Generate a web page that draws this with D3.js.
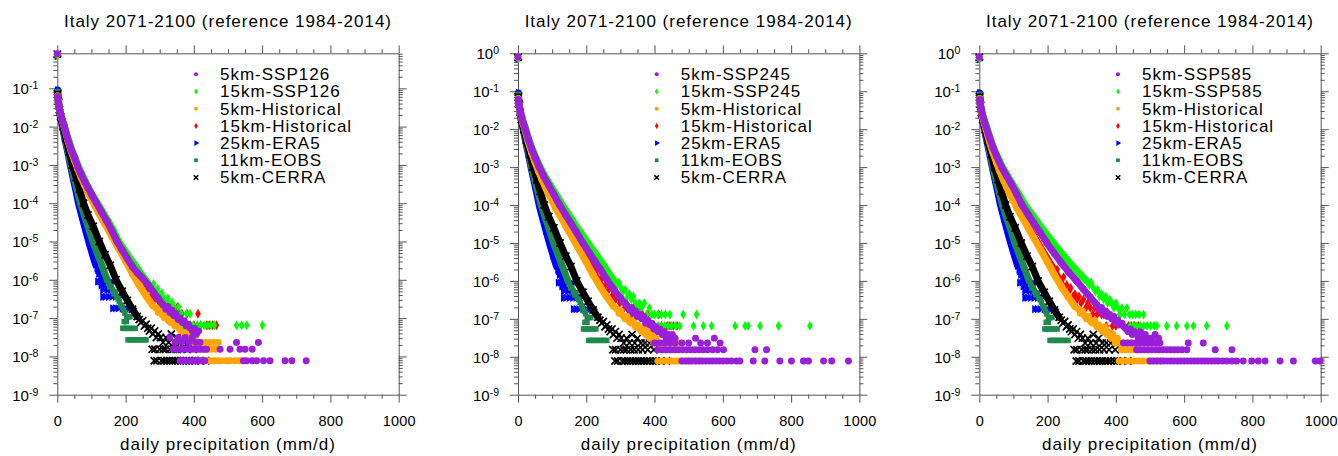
<!DOCTYPE html>
<html>
<head>
<meta charset="utf-8">
<script src="https://cdn.jsdelivr.net/npm/d3@7"></script>
<style>
    body { margin: 0; background: #fff; }
    svg { display: block; font-family: "Liberation Sans", Arial, Helvetica, sans-serif; }
    .domain, .tick line { stroke: #555; stroke-width: 1; }
    .tick text { fill: #000; }
</style>
</head>
<body>
<svg id="chart" width="1338" height="456"></svg>
<script>
// ---- axis / label data ----
const xTicks = [0, 200, 400, 600, 800, 1000];
const xMinorTicks = [50, 100, 150, 250, 300, 350, 450, 500, 550, 650, 700, 750, 850, 900, 950];
const yExponents = [0, -1, -2, -3, -4, -5, -6, -7, -8, -9];
const yMaxByPanel = [0.82, 1, 1];
const panelTitles = [
    'Italy 2071-2100 (reference 1984-2014)',
    'Italy 2071-2100 (reference 1984-2014)',
    'Italy 2071-2100 (reference 1984-2014)'
];
const scenarios = ['SSP126', 'SSP245', 'SSP585'];
const referenceLabels = ['5km-Historical', '15km-Historical', '25km-ERA5', '11km-EOBS', '5km-CERRA'];

// ---- reference series (same in every panel): [mm/d, frequency] ----
const era5Bulk = [[1,9.0e-2],[3,5.0e-2],[6,2.8e-2],[10,1.6e-2],[15,1.0e-2],[22,4.9e-3],[30,2.3e-3],[38,1.0e-3],[46,4.7e-4],[54,2.2e-4],[62,1.0e-4],[72,4.5e-5],[82,2.1e-5],[92,1.0e-5],[103,4.6e-6],[112,2.5e-6]];
const era5Tail = [[0,0.7],[116,1.98e-6],[118,1.8e-6],[121,1.44e-6],[124,1.62e-6],[127,1.08e-6],[130,1.26e-6],
    [118,9.0e-7],[125,9.0e-7],[132,9.0e-7],[140,9.0e-7],[150,9.0e-7],[157,9.0e-7],[128,7.2e-7],[140,7.2e-7],[148,7.2e-7],
    [133,5.4e-7],[145,5.4e-7],[155,5.4e-7],[133,3.6e-7],[140,3.6e-7],[150,3.6e-7],[160,3.6e-7],[170,3.6e-7],[182,3.6e-7],
    [162,1.8e-7],[170,1.8e-7],[178,1.8e-7],[190,1.8e-7],[200,1.8e-7],[210,1.8e-7],[221,1.8e-7]];

const eobsBulk = [[1,8.0e-2],[3,4.8e-2],[6,2.8e-2],[10,1.7e-2],[16,1.0e-2],[24,4.7e-3],[32,2.2e-3],[40,1.0e-3],[50,4.3e-4],[59,2.1e-4],[68,1.0e-4],[80,4.6e-5],[92,2.2e-5],[104,1.0e-5],[118,4.7e-6],[132,2.2e-6],[146,1.0e-6]];
const eobsTail = [[0,0.72],[150,8.1e-7],[154,6.5e-7],[158,7.0e-7],[162,5.4e-7],[166,4.3e-7],[170,4.9e-7],[174,3.5e-7],[178,3.2e-7],
    [182,2.7e-7],[186,2.2e-7],[190,1.9e-7],[194,1.6e-7],[198,1.35e-7],[203,1.08e-7],[208,1.08e-7],[213,1.08e-7],[196,8.1e-8],[202,8.1e-8],
    [192,5.4e-8],[198,5.4e-8],[204,5.4e-8],[212,5.4e-8],[220,5.4e-8],[228,5.4e-8],
    [207,2.7e-8],[214,2.7e-8],[221,2.7e-8],[228,2.7e-8],[236,2.7e-8],[244,2.7e-8],[252,2.7e-8],[260,2.7e-8]];

const cerraBulk = [[1,7.0e-2],[3,4.5e-2],[6,2.8e-2],[10,1.8e-2],[17,1.0e-2],[25,5.0e-3],[35,2.2e-3],[44,1.0e-3],[55,4.7e-4],[65,2.3e-4],[77,1.0e-4],[90,4.9e-5],[105,2.5e-5],[123,1.0e-5],[140,4.5e-6],[155,2.4e-6],[172,1.0e-6],[190,5.0e-7],[205,2.9e-7],[220,1.7e-7],[234,1.1e-7]];
const cerraTail = [[0,0.78],[240,9.2e-8],[245,7.7e-8],[250,8.5e-8],[255,6.2e-8],[260,6.9e-8],[265,5.4e-8],[270,4.6e-8],[275,5.4e-8],
    [280,3.85e-8],[285,4.6e-8],[290,3.1e-8],[296,3.85e-8],[302,3.1e-8],[310,2.3e-8],[318,3.1e-8],[326,2.3e-8],[334,3.85e-8],
    [342,2.3e-8],[350,3.1e-8],[360,2.3e-8],[372,2.3e-8],[385,2.3e-8],
    [278,1.54e-8],[286,1.54e-8],[300,1.54e-8],[310,1.54e-8],[318,1.54e-8],[330,1.54e-8],[340,1.54e-8],[352,1.54e-8],[365,1.54e-8],[380,1.54e-8],[398,1.54e-8],
    [284,7.7e-9],[292,7.7e-9],[305,7.7e-9],[313,7.7e-9],[321,7.7e-9],[329,7.7e-9],[337,7.7e-9],[345,7.7e-9],[353,7.7e-9],[361,7.7e-9],
    [369,7.7e-9],[377,7.7e-9],[385,7.7e-9],[395,7.7e-9],[405,7.7e-9],[420,7.7e-9],[435,7.7e-9]];

const hist5kmBulk = [[1,6.3e-2],[3,4.5e-2],[6,3.0e-2],[10,2.1e-2],[15,1.4e-2],[20,1.0e-2],[30,4.7e-3],[40,2.4e-3],[50,1.35e-3],[60,7.8e-4],[70,4.7e-4],[80,3.0e-4],[90,1.9e-4],[100,1.3e-4],[110,8.5e-5],[120,5.9e-5],[140,2.8e-5],[160,1.35e-5],[180,6.5e-6],[200,3.1e-6],[220,1.45e-6],[240,7.2e-7],[260,3.8e-7],[280,2.1e-7]];
const hist5kmTail = [[0,0.78],[290,1.8e-7],[296,1.4e-7],[302,1.6e-7],[308,1.2e-7],[314,1.0e-7],[320,1.15e-7],[326,8.5e-8],[332,7.7e-8],
    [338,9.2e-8],[344,6.2e-8],[350,6.9e-8],[356,5.4e-8],[362,4.6e-8],[368,6.2e-8],[374,3.85e-8],[380,4.6e-8],[386,3.1e-8],[392,3.85e-8],
    [398,2.3e-8],[404,3.1e-8],[410,2.3e-8],[416,1.54e-8],[422,2.3e-8],[428,1.54e-8],[434,2.3e-8],[440,1.54e-8],[446,2.3e-8],
    [452,1.54e-8],[458,2.3e-8],[464,1.54e-8],[471,2.3e-8],
    [410,7.7e-9],[420,7.7e-9],[430,7.7e-9],[440,7.7e-9],[450,7.7e-9],[460,7.7e-9],[470,7.7e-9],[480,7.7e-9],[495,7.7e-9],[505,7.7e-9],[520,7.7e-9],[533,7.7e-9]];

const hist15kmBulk = [[1,5.5e-2],[3,4.2e-2],[6,2.9e-2],[10,2.0e-2],[15,1.4e-2],[20,1.0e-2],[30,4.9e-3],[40,2.5e-3],[50,1.4e-3],[60,8.3e-4],[70,5.0e-4],[80,3.2e-4],[90,2.1e-4],[108,1.0e-4],[125,5.3e-5],[140,3.0e-5],[155,1.8e-5],[172,1.0e-5],[190,5.2e-6],[205,3.2e-6],[220,1.9e-6],[235,1.0e-6]];
const hist15kmTail = [[0,0.75],[228,2.0e-6],[247,1.26e-6],[240,9.1e-7],[245,7.8e-7],[250,6.5e-7],[256,7.8e-7],[262,5.2e-7],[268,6.5e-7],
    [275,3.9e-7],[280,4.5e-7],[286,3.25e-7],[292,3.9e-7],[298,2.6e-7],[305,3.25e-7],[312,1.95e-7],[318,2.6e-7],[325,1.95e-7],
    [332,1.3e-7],[338,1.95e-7],[345,1.3e-7],[352,1.95e-7],[358,1.3e-7],[365,1.3e-7],[372,6.5e-8],[380,1.3e-7],[390,6.5e-8],
    [400,6.5e-8],[412,1.3e-7],[420,6.5e-8],[437,6.5e-8],[445,6.5e-8],[455,6.5e-8],[466,6.5e-8]];

// ---- scenario series, one pair per panel ----
const ssp126_5kmBulk = [[1,6.0e-2],[3,4.4e-2],[6,3.0e-2],[10,2.1e-2],[15,1.45e-2],[20,1.05e-2],[30,5.0e-3],[40,2.6e-3],[50,1.6e-3],[60,9.0e-4],[70,5.6e-4],[80,3.7e-4],[90,2.5e-4],[100,1.7e-4],[115,1.0e-4],[130,5.8e-5],[145,3.4e-5],[160,1.9e-5],[175,1.0e-5],[190,6.0e-6],[205,3.6e-6],[220,2.2e-6],[235,1.5e-6],[250,1.1e-6],[265,7.6e-7],[280,5.0e-7],[295,3.3e-7],[310,2.2e-7]];
const ssp126_5kmTail = [[0,0.8],[318,1.7e-7],[324,2.0e-7],[330,1.4e-7],[336,1.6e-7],[342,1.15e-7],[348,1.3e-7],[354,9.2e-8],[360,1.0e-7],
    [366,7.7e-8],[372,8.5e-8],[378,6.2e-8],[384,6.9e-8],[390,5.4e-8],[396,4.6e-8],[402,5.4e-8],[408,3.85e-8],[414,4.6e-8],
    [330,3.1e-8],[345,2.3e-8],[355,3.1e-8],[365,2.3e-8],[375,3.1e-8],[385,2.3e-8],[395,3.1e-8],[405,2.3e-8],[418,2.3e-8],[525,2.3e-8],[589,2.3e-8],
    [340,1.54e-8],[350,1.54e-8],[360,1.54e-8],[370,1.54e-8],[380,1.54e-8],[390,1.54e-8],[400,1.54e-8],[410,1.54e-8],[420,1.54e-8],
    [430,1.54e-8],[437,1.54e-8],[477,1.54e-8],[506,1.54e-8],[535,1.54e-8],[550,1.54e-8],[571,1.54e-8],
    [360,7.7e-9],[368,7.7e-9],[376,7.7e-9],[384,7.7e-9],[392,7.7e-9],[400,7.7e-9],[408,7.7e-9],[416,7.7e-9],[424,7.7e-9],[432,7.7e-9],
    [545,7.7e-9],[555,7.7e-9],[571,7.7e-9],[584,7.7e-9],[604,7.7e-9],[623,7.7e-9],[667,7.7e-9],[687,7.7e-9],[729,7.7e-9]];
const ssp126_15kmBulk = [[1,5.5e-2],[3,4.2e-2],[6,3.0e-2],[10,2.15e-2],[15,1.5e-2],[20,1.1e-2],[30,5.4e-3],[40,2.9e-3],[50,1.7e-3],[60,1.0e-3],[70,6.3e-4],[80,4.1e-4],[90,2.7e-4],[100,1.85e-4],[118,1.0e-4],[135,5.5e-5],[150,3.3e-5],[165,1.9e-5],[180,1.0e-5],[195,6.3e-6],[210,4.0e-6],[225,2.6e-6],[240,1.7e-6],[258,1.0e-6]];
const ssp126_15kmTail = [[0,0.75],[265,9.1e-7],[270,7.8e-7],[276,6.5e-7],[282,7.8e-7],[288,5.2e-7],[294,5.85e-7],[300,3.9e-7],[306,4.55e-7],
    [312,3.25e-7],[318,2.6e-7],[324,3.25e-7],[330,1.95e-7],[336,2.6e-7],[342,1.95e-7],[348,1.3e-7],[355,1.95e-7],[362,1.3e-7],
    [370,6.5e-8],[378,1.3e-7],[389,6.5e-8],[389,1.3e-7],[398,6.5e-8],[410,6.5e-8],[420,6.5e-8],[430,6.5e-8],[440,6.5e-8],
    [450,6.5e-8],[460,6.5e-8],[525,6.5e-8],[540,6.5e-8],[555,6.5e-8],[601,6.5e-8]];

const ssp245_5kmBulk = [[1,6.0e-2],[3,4.4e-2],[6,3.1e-2],[10,2.2e-2],[15,1.5e-2],[20,1.1e-2],[30,5.6e-3],[40,3.0e-3],[50,1.8e-3],[62,1.0e-3],[75,5.8e-4],[90,3.3e-4],[105,1.9e-4],[122,1.0e-4],[140,5.4e-5],[155,3.3e-5],[170,2.0e-5],[190,1.0e-5],[210,5.3e-6],[225,3.3e-6],[240,2.1e-6],[262,1.0e-6],[280,6.0e-7],[300,3.5e-7],[320,2.2e-7]];
const ssp245_5kmTail = [[0,0.8],[326,1.7e-7],[332,2.0e-7],[338,1.4e-7],[344,1.6e-7],[350,1.15e-7],[356,1.3e-7],[362,1.0e-7],[368,1.15e-7],
    [374,7.7e-8],[380,9.2e-8],[386,6.9e-8],[392,7.7e-8],[398,5.4e-8],[404,6.2e-8],[410,4.6e-8],[416,5.4e-8],[422,3.85e-8],
    [428,4.6e-8],[434,3.1e-8],[440,3.85e-8],[446,3.1e-8],[452,3.85e-8],[460,3.1e-8],[520,3.1e-8],[575,3.1e-8],
    [400,2.3e-8],[415,2.3e-8],[430,2.3e-8],[445,2.3e-8],[460,2.3e-8],[480,2.3e-8],[500,2.3e-8],[535,2.3e-8],[555,2.3e-8],[592,2.3e-8],
    [410,1.54e-8],[422,1.54e-8],[434,1.54e-8],[446,1.54e-8],[458,1.54e-8],[470,1.54e-8],[482,1.54e-8],[494,1.54e-8],[506,1.54e-8],
    [518,1.54e-8],[530,1.54e-8],[542,1.54e-8],[555,1.54e-8],[570,1.54e-8],[585,1.54e-8],[602,1.54e-8],[694,1.54e-8],[728,1.54e-8],
    [480,7.7e-9],[490,7.7e-9],[500,7.7e-9],[510,7.7e-9],[520,7.7e-9],[530,7.7e-9],[540,7.7e-9],[550,7.7e-9],[560,7.7e-9],[570,7.7e-9],
    [580,7.7e-9],[590,7.7e-9],[600,7.7e-9],[612,7.7e-9],[625,7.7e-9],[640,7.7e-9],[650,7.7e-9],[689,7.7e-9],[723,7.7e-9],[767,7.7e-9],
    [801,7.7e-9],[836,7.7e-9],[851,7.7e-9],[895,7.7e-9],[919,7.7e-9],[968,7.7e-9]];
const ssp245_15kmBulk = [[1,5.5e-2],[3,4.3e-2],[6,3.1e-2],[10,2.3e-2],[15,1.6e-2],[20,1.2e-2],[30,6.0e-3],[40,3.3e-3],[50,2.0e-3],[65,1.0e-3],[80,5.6e-4],[95,3.3e-4],[110,2.0e-4],[130,1.0e-4],[150,5.3e-5],[170,2.8e-5],[185,1.8e-5],[205,1.0e-5],[225,5.5e-6],[245,3.1e-6],[262,1.8e-6],[282,1.0e-6]];
const ssp245_15kmTail = [[0,0.75],[290,7.8e-7],[296,9.1e-7],[302,6.5e-7],[308,5.2e-7],[314,5.85e-7],[320,3.9e-7],[326,4.55e-7],[332,3.25e-7],
    [338,3.9e-7],[344,2.6e-7],[350,1.95e-7],[356,2.6e-7],[362,1.95e-7],[370,2.6e-7],[377,1.3e-7],[385,1.95e-7],[392,1.3e-7],
    [400,1.3e-7],[410,1.3e-7],[420,1.3e-7],[432,1.3e-7],[445,1.3e-7],[484,1.3e-7],[523,1.3e-7],
    [400,6.5e-8],[410,6.5e-8],[420,6.5e-8],[430,6.5e-8],[440,6.5e-8],[450,6.5e-8],[462,6.5e-8],[474,6.5e-8],[514,6.5e-8],
    [543,6.5e-8],[567,6.5e-8],[636,6.5e-8],[665,6.5e-8],[674,6.5e-8],[709,6.5e-8],[763,6.5e-8],[855,6.5e-8]];

const ssp585_5kmBulk = [[1,6.0e-2],[3,4.5e-2],[6,3.2e-2],[10,2.3e-2],[15,1.6e-2],[20,1.15e-2],[30,6.0e-3],[40,3.3e-3],[50,2.0e-3],[65,1.0e-3],[80,5.8e-4],[95,3.4e-4],[110,1.9e-4],[125,1.0e-4],[145,5.3e-5],[160,3.3e-5],[178,1.9e-5],[198,1.0e-5],[220,5.3e-6],[240,3.0e-6],[262,1.7e-6],[285,1.0e-6],[305,6.0e-7],[325,3.7e-7],[345,2.3e-7]];
const ssp585_5kmTail = [[0,0.8],[352,1.7e-7],[358,2.0e-7],[364,1.4e-7],[370,1.6e-7],[376,1.15e-7],[382,1.3e-7],[388,1.0e-7],[394,1.15e-7],
    [400,7.7e-8],[406,9.2e-8],[412,6.9e-8],[418,7.7e-8],[424,6.2e-8],[430,5.4e-8],[436,4.6e-8],[442,5.4e-8],[448,3.85e-8],
    [454,4.6e-8],[460,3.85e-8],[466,3.1e-8],[472,4.6e-8],[478,3.1e-8],[486,3.85e-8],[494,3.1e-8],[505,3.1e-8],[515,3.85e-8],[525,3.1e-8],
    [422,2.3e-8],[434,2.3e-8],[446,2.3e-8],[458,2.3e-8],[470,2.3e-8],[482,2.3e-8],[494,2.3e-8],[506,2.3e-8],[518,2.3e-8],[529,2.3e-8],[612,2.3e-8],[656,2.3e-8],
    [461,1.54e-8],[472,1.54e-8],[483,1.54e-8],[494,1.54e-8],[505,1.54e-8],[516,1.54e-8],[527,1.54e-8],[538,1.54e-8],[549,1.54e-8],
    [560,1.54e-8],[571,1.54e-8],[582,1.54e-8],[594,1.54e-8],[608,1.54e-8],[691,1.54e-8],[740,1.54e-8],
    [500,7.7e-9],[510,7.7e-9],[520,7.7e-9],[530,7.7e-9],[540,7.7e-9],[550,7.7e-9],[560,7.7e-9],[570,7.7e-9],[580,7.7e-9],[590,7.7e-9],
    [600,7.7e-9],[610,7.7e-9],[620,7.7e-9],[630,7.7e-9],[640,7.7e-9],[650,7.7e-9],[660,7.7e-9],[670,7.7e-9],[680,7.7e-9],[690,7.7e-9],
    [700,7.7e-9],[712,7.7e-9],[725,7.7e-9],[740,7.7e-9],[754,7.7e-9],[773,7.7e-9],[798,7.7e-9],[817,7.7e-9],[837,7.7e-9],[881,7.7e-9],
    [920,7.7e-9],[984,7.7e-9],[998,7.7e-9]];
const ssp585_15kmBulk = [[1,5.5e-2],[3,4.4e-2],[6,3.2e-2],[10,2.4e-2],[15,1.7e-2],[20,1.3e-2],[30,6.6e-3],[40,3.6e-3],[50,2.2e-3],[68,1.0e-3],[85,5.5e-4],[100,3.3e-4],[115,2.0e-4],[134,1.0e-4],[155,5.5e-5],[175,3.1e-5],[195,1.8e-5],[217,1.0e-5],[240,5.5e-6],[262,3.2e-6],[287,1.8e-6],[314,1.0e-6]];
const ssp585_15kmTail = [[0,0.75],[322,7.8e-7],[328,9.1e-7],[334,6.5e-7],[340,5.2e-7],[346,5.85e-7],[352,3.9e-7],[358,4.55e-7],[364,3.25e-7],
    [370,3.9e-7],[376,2.6e-7],[382,3.25e-7],[388,2.6e-7],[394,1.95e-7],[400,2.6e-7],[406,1.95e-7],[412,1.3e-7],[418,1.95e-7],
    [425,1.3e-7],[432,1.95e-7],[440,1.3e-7],[448,1.3e-7],[458,1.3e-7],[468,1.3e-7],[481,1.3e-7],
    [442,6.5e-8],[452,6.5e-8],[462,6.5e-8],[472,6.5e-8],[482,6.5e-8],[492,6.5e-8],[502,6.5e-8],[512,6.5e-8],[520,6.5e-8],
    [549,6.5e-8],[578,6.5e-8],[608,6.5e-8],[627,6.5e-8],[666,6.5e-8],[725,6.5e-8]];

// ---- styles (kept apart from the data) ----
const styles = {
    ssp5:   { color: '#9a1fd8', shape: 'circle' },
    ssp15:  { color: '#00ff00', shape: 'diamond' },
    hist5:  { color: '#ffa500', shape: 'circle' },
    hist15: { color: '#ff0000', shape: 'diamond' },
    era5:   { color: '#0000ff', shape: 'triangle' },
    eobs:   { color: '#1e8a4c', shape: 'square' },
    cerra:  { color: '#000000', shape: 'cross' }
};
const markerSize = { circle: 38, diamond: 28, triangle: 30, square: 30, cross: 36 };
const legendMarkerSize = { circle: 13, diamond: 11, triangle: 14, square: 14, cross: 15 };

const margin = { top: 53.3, left: [57.3, 518, 979.3] };
const plotWidth = 341.4;
const plotHeight = 341.4;

class PrecipPanel {
    constructor(svg, index) {
        this.index = index;
        this.svg = svg;
        this.width = plotWidth;
        this.height = plotHeight;
        this.g = svg.append('g')
            .attr('transform', `translate(${margin.left[index]}, ${margin.top})`);

        this.scaleX();
        this.scaleY();
        this.addAxes();
        this.addAllSeries();
        this.addTitle();
        this.addXAxisLabel();
        this.addLegend();
    }

    scaleX() {
        this.x = d3.scaleLinear().domain([0, 1000]).range([0, this.width]);
    }

    scaleY() {
        this.y = d3.scaleLog().domain([1e-9, yMaxByPanel[this.index]]).range([this.height, 0]);
    }

    addAxes() {
        const yMajor = yExponents.map(e => Math.pow(10, e)).filter(v => v <= yMaxByPanel[this.index] + 1e-12);
        const yMinor = [];
        yExponents.slice(1).forEach(e => {
            for (let m = 2; m <= 9; m++) {
                const v = m * Math.pow(10, e);
                if (v <= yMaxByPanel[this.index]) yMinor.push(v);
            }
        });

        // minor ticks first
        this.g.append('g').attr('transform', `translate(0,${this.height})`)
            .call(d3.axisBottom(this.x).tickValues(xMinorTicks).tickSize(4).tickFormat(''))
            .select('.domain').remove();
        this.g.append('g')
            .call(d3.axisTop(this.x).tickValues(xMinorTicks).tickSize(4).tickFormat(''))
            .select('.domain').remove();
        this.g.append('g')
            .call(d3.axisLeft(this.y).tickValues(yMinor).tickSize(4).tickFormat(''))
            .select('.domain').remove();
        this.g.append('g').attr('transform', `translate(${this.width},0)`)
            .call(d3.axisRight(this.y).tickValues(yMinor).tickSize(4).tickFormat(''))
            .select('.domain').remove();

        // major ticks + frame
        this.g.append('g')
            .attr('class', 'x-axis')
            .attr('transform', `translate(0,${this.height})`)
            .call(d3.axisBottom(this.x).tickValues(xTicks).tickSizeInner(8).tickSizeOuter(0).tickPadding(13).tickFormat(d3.format('d')))
            .call(g => g.selectAll('.tick text').attr('font-size', 14.5).attr('font-family', '"Liberation Sans", Arial, sans-serif').style('letter-spacing', '0.2px'));
        this.g.append('g')
            .call(d3.axisTop(this.x).tickValues(xTicks).tickSizeInner(8).tickSizeOuter(0).tickFormat(''));
        this.g.append('g')
            .attr('class', 'y-axis')
            .call(d3.axisLeft(this.y).tickValues(yMajor).tickSizeInner(8).tickSizeOuter(0).tickFormat(''))
            .call(g => {
                const label = g.selectAll('.tick').append('text')
                    .attr('x', -19)
                    .attr('y', 5.5)
                    .attr('text-anchor', 'end')
                    .attr('font-size', 15)
                    .attr('fill', '#000')
                    .text('10');
                label.append('tspan')
                    .attr('dy', -5)
                    .attr('font-size', 10.5)
                    .text(d => String(Math.round(Math.log10(d))));
            });
        this.g.append('g').attr('transform', `translate(${this.width},0)`)
            .call(d3.axisRight(this.y).tickValues(yMajor).tickSizeInner(8).tickSizeOuter(0).tickFormat(''));
    }

    seriesForPanel() {
        const s = [
            [ssp126_5kmBulk, ssp126_5kmTail, ssp126_15kmBulk, ssp126_15kmTail],
            [ssp245_5kmBulk, ssp245_5kmTail, ssp245_15kmBulk, ssp245_15kmTail],
            [ssp585_5kmBulk, ssp585_5kmTail, ssp585_15kmBulk, ssp585_15kmTail]
        ][this.index];
        // drawing order: bottom to top
        return [
            { style: 'era5', bulk: era5Bulk, tail: era5Tail },
            { style: 'eobs', bulk: eobsBulk, tail: eobsTail },
            { style: 'cerra', bulk: cerraBulk, tail: cerraTail },
            { style: 'hist15', bulk: hist15kmBulk, tail: hist15kmTail },
            { style: 'hist5', bulk: hist5kmBulk, tail: hist5kmTail },
            { style: 'ssp15', bulk: s[2], tail: s[3] },
            { style: 'ssp5', bulk: s[0], tail: s[1] }
        ];
    }

    symbolPath(shape, size) {
        const type = {
            circle: d3.symbolCircle,
            diamond: d3.symbolDiamond,
            triangle: d3.symbolTriangle,
            square: d3.symbolSquare,
            cross: d3.symbolTimes
        }[shape];
        return d3.symbol().type(type).size(size)();
    }

    drawMarkers(group, data, style, size) {
        const rot = style.shape === 'triangle' ? ' rotate(90)' : '';
        const isStroke = style.shape === 'cross';
        group.selectAll(null)
            .data(data)
            .enter()
            .append('path')
            .attr('transform', d => `translate(${this.x(d[0])},${this.y(d[1])})${rot}`)
            .attr('d', this.symbolPath(style.shape, size))
            .attr('fill', isStroke ? 'none' : style.color)
            .attr('stroke', isStroke ? style.color : 'none')
            .attr('stroke-width', isStroke ? 1.7 : 0);
    }

    addAllSeries() {
        const line = d3.line().x(d => this.x(d[0])).y(d => this.y(d[1]));
        this.seriesForPanel().forEach(series => {
            const style = styles[series.style];
            const grp = this.g.append('g').attr('class', `series series-${series.style}`);
            grp.append('path')
                .datum(series.bulk)
                .attr('d', line)
                .attr('fill', 'none')
                .attr('stroke', style.color)
                .attr('stroke-width', 7)
                .attr('stroke-linejoin', 'round')
                .attr('stroke-linecap', 'round');
            this.drawMarkers(grp, series.bulk, style, markerSize[style.shape]);
            this.drawMarkers(grp, series.tail, style, markerSize[style.shape]);
        });
    }

    addTitle() {
        this.g.append('text')
            .attr('x', this.width / 2)
            .attr('y', -26)
            .attr('text-anchor', 'middle')
            .attr('font-size', 17)
            .style('letter-spacing', '1px')
            .text(panelTitles[this.index]);
    }

    addXAxisLabel() {
        this.g.append('text')
            .attr('x', this.width / 2)
            .attr('y', this.height + 55)
            .attr('text-anchor', 'middle')
            .attr('font-size', 17)
            .style('letter-spacing', '1px')
            .text('daily precipitation (mm/d)');
    }

    addLegend() {
        const labels = [`5km-${scenarios[this.index]}`, `15km-${scenarios[this.index]}`].concat(referenceLabels);
        const keys = ['ssp5', 'ssp15', 'hist5', 'hist15', 'era5', 'eobs', 'cerra'];
        const legend = this.g.append('g').attr('class', 'legend');
        labels.forEach((label, i) => {
            const style = styles[keys[i]];
            const cy = 21 + i * 17.2;
            const rot = style.shape === 'triangle' ? ' rotate(90)' : '';
            const isStroke = style.shape === 'cross';
            legend.append('path')
                .attr('transform', `translate(138.7,${cy})${rot}`)
                .attr('d', this.symbolPath(style.shape, legendMarkerSize[style.shape]))
                .attr('fill', isStroke ? 'none' : style.color)
                .attr('stroke', isStroke ? style.color : 'none')
                .attr('stroke-width', isStroke ? 1.5 : 0);
            legend.append('text')
                .attr('x', 162.7)
                .attr('y', cy + 6)
                .attr('font-size', 17)
                .style('letter-spacing', '1px')
                .text(label);
        });
    }
}

const svg = d3.select('#chart');
[0, 1, 2].forEach(i => new PrecipPanel(svg, i));
</script>
</body>
</html>
